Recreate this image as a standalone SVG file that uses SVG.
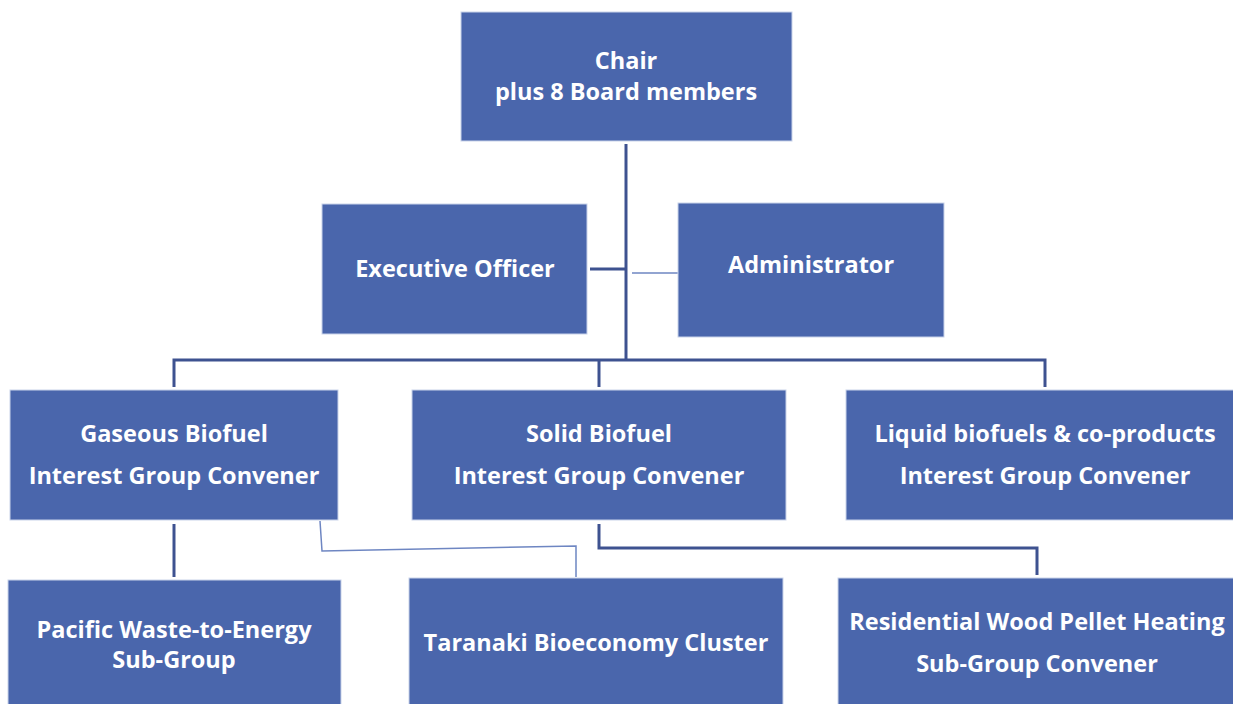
<svg xmlns="http://www.w3.org/2000/svg" width="1233" height="704" viewBox="0 0 1233 704">
<style>
.box{fill:#4A66AC;stroke:#c9d3ea;stroke-width:1}
.t{font-family:"Open Sans","Liberation Sans",Arial,sans-serif;font-weight:bold;font-size:23.5px;fill:#ffffff;text-anchor:middle}
.c{fill:none;stroke:#3E5290;stroke-width:3}
.thin{fill:none;stroke:#6E86C2;stroke-width:1.5}
</style>
<rect width="1233" height="704" fill="#ffffff"/>
<g id="connectors">
<path class="c" d="M626,144 V361"/>
<path class="c" d="M590,269 H626"/>
<path class="thin" d="M632,273 H678"/>
<path class="c" d="M174,387 V360 H1045 V387"/>
<path class="c" d="M599,361 V387"/>
<path class="c" d="M174,524 V577"/>
<path class="thin" d="M320,521 L322,551 L576,546 V577"/>
<path class="c" d="M599,524 V548 H1037 V575"/>
</g>
<g id="chair"><rect class="box" x="461" y="12" width="331" height="129"/>
<text class="t" x="626" y="69">Chair</text><text class="t" x="626" y="100">plus 8 Board members</text></g>
<g id="exec"><rect class="box" x="322" y="204" width="265" height="130"/>
<text class="t" x="455" y="277">Executive Officer</text></g>
<g id="admin"><rect class="box" x="678" y="203" width="266" height="134"/>
<text class="t" x="811" y="273">Administrator</text></g>
<g id="gaseous"><rect class="box" x="10" y="390" width="328" height="130"/>
<text class="t" x="174" y="442">Gaseous Biofuel</text><text class="t" x="174" y="484">Interest Group Convener</text></g>
<g id="solid"><rect class="box" x="412" y="390" width="374" height="130"/>
<text class="t" x="599" y="442">Solid Biofuel</text><text class="t" x="599" y="484">Interest Group Convener</text></g>
<g id="liquid"><rect class="box" x="846" y="390" width="390" height="130"/>
<text class="t" x="1045" y="442">Liquid biofuels &amp; co-products</text><text class="t" x="1045" y="484">Interest Group Convener</text></g>
<g id="pacific"><rect class="box" x="8" y="580" width="333" height="130"/>
<text class="t" x="174" y="638">Pacific Waste-to-Energy</text><text class="t" x="174" y="668">Sub-Group</text></g>
<g id="taranaki"><rect class="box" x="409" y="578" width="374" height="130"/>
<text class="t" x="596" y="651">Taranaki Bioeconomy Cluster</text></g>
<g id="residential"><rect class="box" x="838" y="578" width="398" height="130"/>
<text class="t" x="1037" y="630">Residential Wood Pellet Heating</text><text class="t" x="1037" y="672">Sub-Group Convener</text></g>
</svg>
